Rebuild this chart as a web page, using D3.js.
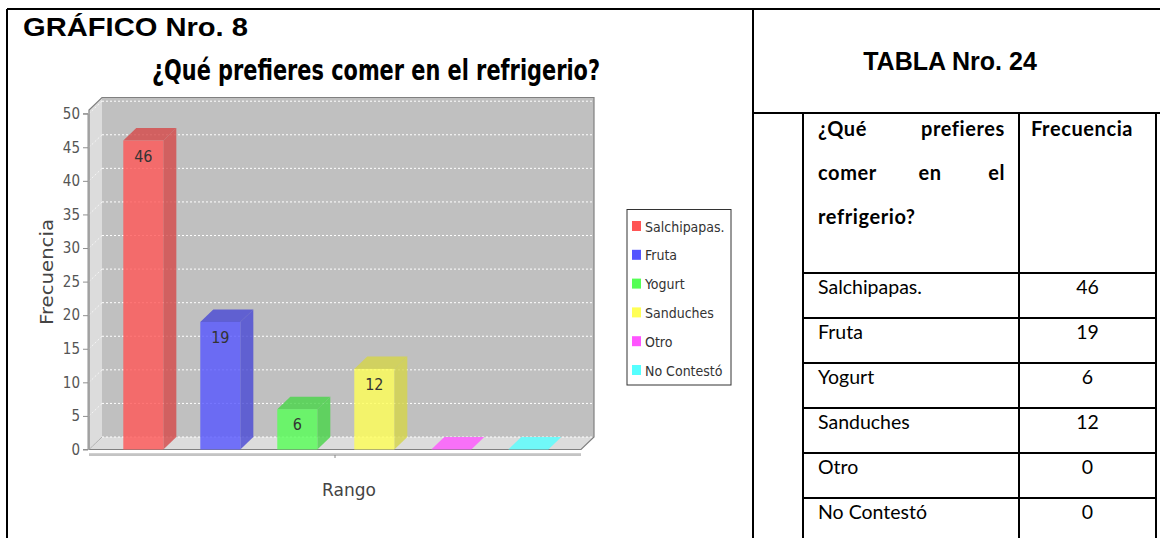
<!DOCTYPE html>
<html>
<head>
<meta charset="utf-8">
<script src="https://cdn.jsdelivr.net/npm/d3@7/dist/d3.min.js"></script>
<style>
  html, body { margin: 0; padding: 0; background: #fff; }
  svg { display: block; }
</style>
</head>
<body>
<svg id="chart" width="1160" height="538"></svg>
<script>
// ---- Data ----
const categories = ["Salchipapas.", "Fruta", "Yogurt", "Sanduches", "Otro", "No Contestó"];
const values = [46, 19, 6, 12, 0, 0];
const seriesColors = ["#FF5555", "#5555FF", "#55FF55", "#FFFF55", "#FF55FF", "#55FFFF"];
const yTicks = [0, 5, 10, 15, 20, 25, 30, 35, 40, 45, 50];
const chartTitle = "¿Qué prefieres comer en el refrigerio?";
const graphLabel = "GRÁFICO Nro. 8";
const tableLabel = "TABLA Nro. 24";
const yAxisTitle = "Frecuencia";
const xAxisTitle = "Rango";
const xCategory = "Rango";
const tableHeaderQ = [["¿Qué", "prefieres"], ["comer", "en", "el"], ["refrigerio?"]];
const tableHeaderF = "Frecuencia";

// ---- Layout ----
const svg = d3.select("#chart");
const plot = { left: 89, right: 581, top: 110, bottom: 449.5 };
const dx = 13, dy = 12.5;

const y = d3.scaleLinear().domain([0, 50.55]).range([plot.bottom, plot.top]);
const x = d3.scaleBand().domain(categories).range([123.3, 548.3]).paddingInner(0.48).paddingOuter(0);

// ---- Frame lines ----
const frame = svg.append("g").attr("stroke", "#000").attr("stroke-width", 2).attr("fill", "none");
frame.append("line").attr("x1", 7).attr("x2", 1160).attr("y1", 9).attr("y2", 9);
frame.append("line").attr("x1", 7).attr("x2", 7).attr("y1", 9).attr("y2", 538);
frame.append("line").attr("x1", 753).attr("x2", 753).attr("y1", 9).attr("y2", 538);
frame.append("line").attr("x1", 753).attr("x2", 1160).attr("y1", 113).attr("y2", 113);

// ---- Titles ----
svg.append("text").attr("x", 23).attr("y", 36)
  .attr("font-family", "Liberation Sans, Arial, sans-serif").attr("font-weight", "bold")
  .attr("font-size", 25).attr("textLength", 225).attr("lengthAdjust", "spacingAndGlyphs")
  .attr("fill", "#000").text(graphLabel);

svg.append("text").attr("x", 152).attr("y", 80)
  .attr("font-family", "DejaVu Sans Condensed, DejaVu Sans, sans-serif").attr("font-weight", "bold")
  .attr("font-size", 28).attr("textLength", 448).attr("lengthAdjust", "spacingAndGlyphs")
  .attr("fill", "#000").text(chartTitle);

// ---- 3D plot walls ----
const g = svg.append("g");
g.append("rect").attr("x", plot.left + dx).attr("y", plot.top - dy)
  .attr("width", plot.right - plot.left).attr("height", plot.bottom - plot.top)
  .attr("fill", "#C0C0C0");
g.append("polygon").attr("points", [
  [plot.left, plot.top], [plot.left + dx, plot.top - dy],
  [plot.left + dx, plot.bottom - dy], [plot.left, plot.bottom]].join(" "))
  .attr("fill", "#DCDCDC");
g.append("polygon").attr("points", [
  [plot.left, plot.bottom], [plot.left + dx, plot.bottom - dy],
  [plot.right + dx, plot.bottom - dy], [plot.right, plot.bottom]].join(" "))
  .attr("fill", "#DCDCDC");

const grid = g.append("g");
yTicks.forEach(v => {
  grid.append("line")
    .attr("x1", plot.left + dx).attr("x2", plot.right + dx)
    .attr("y1", y(v) - dy).attr("y2", y(v) - dy)
    .attr("stroke", "#FFFFFF").attr("stroke-width", 1).attr("stroke-dasharray", "2,2");
  grid.append("line")
    .attr("x1", plot.left).attr("x2", plot.left + dx)
    .attr("y1", y(v)).attr("y2", y(v) - dy)
    .attr("stroke", "#FFFFFF").attr("stroke-opacity", 0.7).attr("stroke-width", 1).attr("stroke-dasharray", "2,2");
});

g.append("polygon").attr("points", [
  [plot.left, plot.bottom], [plot.left, plot.top], [plot.left + dx, plot.top - dy],
  [plot.right + dx, plot.top - dy], [plot.right + dx, plot.bottom - dy], [plot.right, plot.bottom]].join(" "))
  .attr("fill", "none").attr("stroke", "#808080").attr("stroke-width", 1.2);
g.append("line").attr("x1", plot.left).attr("x2", plot.left + dx)
  .attr("y1", plot.bottom).attr("y2", plot.bottom - dy).attr("stroke", "#A0A0A0").attr("stroke-width", 0.8);

// ---- Bars ----
const bars = g.append("g");
categories.forEach((c, i) => {
  const v = values[i];
  const x0 = x(c), w = x.bandwidth();
  const yt = y(v), yb = y(0);
  const base = d3.color(seriesColors[i]);
  const dark = base.darker(0.5);
  const op = 0.8;
  if (v > 0) {
    bars.append("polygon").attr("points", [
      [x0 + w, yt], [x0 + w + dx, yt - dy], [x0 + w + dx, yb - dy], [x0 + w, yb]].join(" "))
      .attr("fill", dark).attr("fill-opacity", op);
    bars.append("polygon").attr("points", [
      [x0, yt], [x0 + dx, yt - dy], [x0 + w + dx, yt - dy], [x0 + w, yt]].join(" "))
      .attr("fill", dark).attr("fill-opacity", op);
    bars.append("rect").attr("x", x0).attr("y", yt).attr("width", w).attr("height", yb - yt)
      .attr("fill", base).attr("fill-opacity", op);
    bars.append("text").attr("x", x0 + w / 2).attr("y", yt + 21)
      .attr("text-anchor", "middle")
      .attr("font-family", "DejaVu Sans Condensed, DejaVu Sans, sans-serif")
      .attr("font-size", 16).attr("fill", "#333").text(v);
  } else {
    bars.append("polygon").attr("points", [
      [x0, yt], [x0 + dx, yt - dy], [x0 + w + dx, yt - dy], [x0 + w, yt]].join(" "))
      .attr("fill", base).attr("fill-opacity", op);
  }
});

// ---- Y axis ----
const yAxis = d3.axisLeft(y).tickValues(yTicks).tickSize(5).tickPadding(3);
const ya = svg.append("g").attr("transform", `translate(${plot.left - 1},0)`).call(yAxis);
ya.select(".domain").attr("stroke", "#909090").attr("d", `M-5,${y(50)}H0V${plot.bottom}H-5`);
ya.selectAll(".tick line").attr("stroke", "#909090");
ya.selectAll(".tick text")
  .attr("font-family", "DejaVu Sans Condensed, DejaVu Sans, sans-serif")
  .attr("font-size", 15).attr("fill", "#555");

svg.append("text")
  .attr("transform", `translate(53,272) rotate(-90)`)
  .attr("text-anchor", "middle")
  .attr("font-family", "DejaVu Sans, sans-serif")
  .attr("font-size", 18).attr("textLength", 106).attr("lengthAdjust", "spacingAndGlyphs")
  .attr("fill", "#444").text(yAxisTitle);

// ---- X (category) axis ----
const xCat = d3.scaleBand().domain([xCategory]).range([plot.left, plot.right]);
const xAxis = d3.axisBottom(xCat).tickSize(3).tickFormat(() => "");
const xa = svg.append("g").attr("transform", `translate(0,455)`).call(xAxis);
xa.select(".domain").attr("stroke", "#888").attr("d", `M${plot.left},0H${plot.right}`);
xa.selectAll(".tick line").attr("stroke", "#888");
svg.append("line").attr("x1", plot.left).attr("x2", plot.right).attr("y1", 453.5).attr("y2", 453.5)
  .attr("stroke", "#D0D0D0").attr("stroke-width", 1);

svg.append("text").attr("x", (plot.left + plot.right) / 2 + 14).attr("y", 496)
  .attr("text-anchor", "middle")
  .attr("font-family", "DejaVu Sans, sans-serif")
  .attr("font-size", 17).attr("fill", "#444").text(xAxisTitle);

// ---- Legend ----
const lg = svg.append("g");
lg.append("rect").attr("x", 627).attr("y", 209.5).attr("width", 104).attr("height", 175.5)
  .attr("fill", "#fff").attr("stroke", "#333").attr("stroke-width", 1);
const legendY = d3.scalePoint().domain(categories).range([226, 370]);
categories.forEach((c, i) => {
  const cy = legendY(c);
  lg.append("rect").attr("x", 632).attr("y", cy - 5).attr("width", 9).attr("height", 10)
    .attr("fill", seriesColors[i]);
  lg.append("text").attr("x", 645).attr("y", cy + 5.5)
    .attr("font-family", "DejaVu Sans Condensed, DejaVu Sans, sans-serif")
    .attr("font-size", 14).attr("fill", "#333").text(c);
});

// ---- Table ----
svg.append("text").attr("x", 950).attr("y", 70).attr("text-anchor", "middle")
  .attr("font-family", "Liberation Sans, Arial, sans-serif").attr("font-weight", "bold")
  .attr("font-size", 25).attr("fill", "#000").text(tableLabel);

const tbl = svg.append("g");
const colX = [803, 1019, 1156];
const rowTop = 273, rowH = 45;
const rowY = d3.scaleLinear().domain([0, categories.length]).range([rowTop, rowTop + rowH * categories.length]);
const tl = tbl.append("g").attr("stroke", "#000").attr("stroke-width", 2);
colX.forEach(cx => tl.append("line").attr("x1", cx).attr("x2", cx).attr("y1", 113).attr("y2", 538));
d3.range(categories.length + 1).forEach(r => {
  tl.append("line").attr("x1", colX[0]).attr("x2", colX[2]).attr("y1", rowY(r)).attr("y2", rowY(r));
});

const hdrFont = "Lato, Open Sans, sans-serif";
const lineBase = [136, 180, 224];
tableHeaderQ.forEach((words, li) => {
  const n = words.length;
  words.forEach((w, wi) => {
    let xx, anchor;
    if (n === 1 || wi === 0) { xx = 818; anchor = "start"; }
    else if (wi === n - 1) { xx = 1005; anchor = "end"; }
    else { xx = 930; anchor = "middle"; }
    tbl.append("text").attr("x", xx).attr("y", lineBase[li]).attr("text-anchor", anchor)
      .attr("font-family", hdrFont).attr("font-weight", "bold").attr("font-size", 20)
      .attr("letter-spacing", 0.6)
      .attr("fill", "#000").text(w);
  });
});
tbl.append("text").attr("x", 1031).attr("y", lineBase[0])
  .attr("font-family", hdrFont).attr("font-weight", "bold").attr("font-size", 20)
  .attr("letter-spacing", 0.6)
  .attr("fill", "#000").text(tableHeaderF);

categories.forEach((c, i) => {
  tbl.append("text").attr("x", 818).attr("y", rowY(i) + 21)
    .attr("font-family", hdrFont).attr("font-size", 19.5).attr("fill", "#000").text(c);
  tbl.append("text").attr("x", (colX[1] + colX[2]) / 2).attr("y", rowY(i) + 21)
    .attr("text-anchor", "middle")
    .attr("font-family", hdrFont).attr("font-size", 19.5).attr("fill", "#000").text(values[i]);
});
</script>
</body>
</html>
